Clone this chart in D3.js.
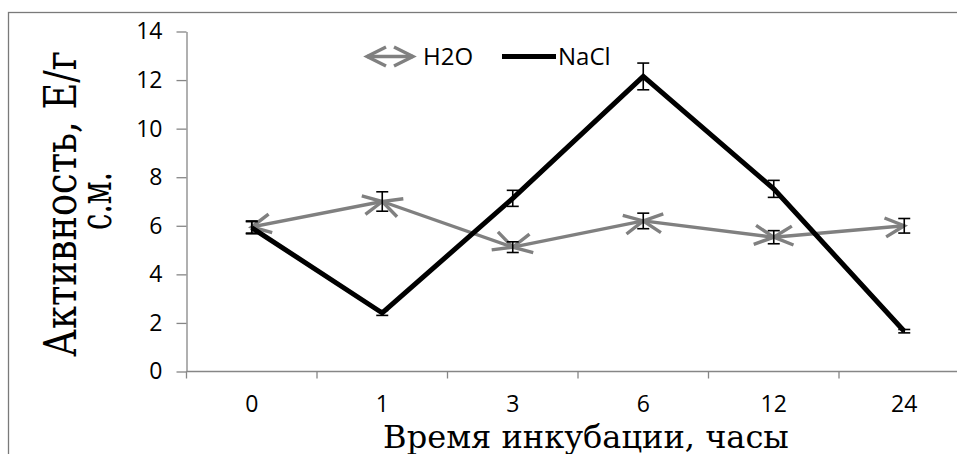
<!DOCTYPE html>
<html>
<head>
<meta charset="utf-8">
<script src="https://cdn.jsdelivr.net/npm/d3@7"></script>
<style>
  body { margin: 0; background: #fff; }
  svg { display: block; }
</style>
</head>
<body>
<svg id="chart" width="957" height="454"></svg>
<script>
// Incubation time categories (hours)
const categories = ["0", "1", "3", "6", "12", "24"];
// Enzyme activity, U/g dry mass
const h2oValues = [5.95, 7.0, 5.12, 6.2, 5.53, 6.0];
const h2oErrors = [0.25, 0.4, 0.22, 0.32, 0.27, 0.3];
const naclValues = [5.92, 2.41, 7.13, 12.15, 7.52, 1.66];
const naclErrors = [0.25, 0.1, 0.33, 0.55, 0.35, 0.07];
const yTicks = [0, 2, 4, 6, 8, 10, 12, 14];
const seriesNames = ["H2O", "NaCl"];
const xTitle = "Время инкубации, часы";
const yTitleLines = ["Активность, Е/г", "с.м."];

const svg = d3.select("#chart");
const GRAY = "#808080";
const AXIS = "#868686";
const SANS = "'Open Sans', 'Noto Sans', sans-serif";
const SERIF = "'DejaVu Serif', 'Liberation Serif', serif";

svg.append("rect").attr("width", 957).attr("height", 454).attr("fill", "#fff");

// Chart border (runs past the right and bottom edges)
svg.append("rect")
  .attr("x", 8.5).attr("y", 12.5).attr("width", 980).attr("height", 480)
  .attr("fill", "none").attr("stroke", "#7a7a7a").attr("stroke-width", 1.3);

const x = d3.scaleBand().domain(categories).range([186.5, 969.5]).padding(0);
const y = d3.scaleLinear().domain([0, 14]).range([371.5, 31.5]);
const cx = c => x(c) + x.bandwidth() / 2;

// Arrowhead marker for the H2O series
const defs = svg.append("defs");
defs.append("marker")
  .attr("id", "chev")
  .attr("markerUnits", "userSpaceOnUse")
  .attr("viewBox", "-26 -14 30 28")
  .attr("markerWidth", 30).attr("markerHeight", 28)
  .attr("refX", 0).attr("refY", 0)
  .attr("orient", "auto-start-reverse")
  .style("overflow", "visible")
  .append("path")
  .attr("d", "M-19,-9.5 L0,0 L-19,9.5")
  .attr("fill", "none").attr("stroke", GRAY).attr("stroke-width", 3.4)
  .attr("stroke-linejoin", "miter");

// Y axis
const yAxis = svg.append("g")
  .attr("transform", "translate(186.5,0)")
  .call(d3.axisLeft(y).tickValues(yTicks).tickSize(10).tickSizeOuter(0).tickPadding(14))
  .attr("font-family", SANS).attr("font-size", 23);
yAxis.select(".domain").attr("stroke", AXIS).attr("stroke-width", 1.3);
yAxis.selectAll(".tick line").attr("stroke", AXIS).attr("stroke-width", 1.3);
yAxis.selectAll(".tick text").attr("fill", "#000");

// X axis: labels centred in each band, ticks on band boundaries
const xAxis = svg.append("g")
  .attr("transform", "translate(0,371.5)")
  .call(d3.axisBottom(x).tickSize(0).tickSizeOuter(0).tickPadding(24))
  .attr("font-family", SANS).attr("font-size", 23);
xAxis.select(".domain").remove();
xAxis.selectAll(".tick text").attr("fill", "#000");
xAxis.append("line")
  .attr("x1", x.range()[0]).attr("x2", x.range()[1])
  .attr("stroke", AXIS).attr("stroke-width", 1.3);
const bounds = categories.map(c => x(c)).concat([x.range()[1]]);
xAxis.selectAll(".bound").data(bounds).enter().append("line")
  .attr("class", "bound")
  .attr("x1", d => d).attr("x2", d => d).attr("y1", 0).attr("y2", 7)
  .attr("stroke", AXIS).attr("stroke-width", 1.3);

function errorBars(values, errors) {
  const g = svg.append("g").attr("stroke", "#000").attr("stroke-width", 1.6);
  categories.forEach((c, i) => {
    const xc = cx(c), y1 = y(values[i] + errors[i]), y2 = y(values[i] - errors[i]);
    g.append("line").attr("x1", xc).attr("x2", xc).attr("y1", y1).attr("y2", y2);
    g.append("line").attr("x1", xc - 6).attr("x2", xc + 6).attr("y1", y1).attr("y2", y1);
    g.append("line").attr("x1", xc - 6).attr("x2", xc + 6).attr("y1", y2).attr("y2", y2);
  });
}

// H2O: segments with arrowheads at both ends
const h2oG = svg.append("g");
for (let i = 0; i < categories.length - 1; i++) {
  h2oG.append("path")
    .attr("d", d3.line()([[cx(categories[i]), y(h2oValues[i])], [cx(categories[i + 1]), y(h2oValues[i + 1])]]))
    .attr("fill", "none").attr("stroke", GRAY).attr("stroke-width", 3.4)
    .attr("marker-start", "url(#chev)").attr("marker-end", "url(#chev)");
}
errorBars(h2oValues, h2oErrors);

// NaCl: thick black line
svg.append("path")
  .datum(naclValues)
  .attr("d", d3.line().x((d, i) => cx(categories[i])).y(d => y(d)))
  .attr("fill", "none").attr("stroke", "#000").attr("stroke-width", 5)
  .attr("stroke-linejoin", "miter");
errorBars(naclValues, naclErrors);

// Legend
const lg = svg.append("g");
lg.append("path").attr("d", d3.line()([[367, 56.5], [413, 56.5]]))
  .attr("stroke", GRAY).attr("stroke-width", 3.4)
  .attr("marker-start", "url(#chev)").attr("marker-end", "url(#chev)");
lg.append("text").attr("x", 423).attr("y", 65).text(seriesNames[0])
  .attr("font-family", SANS).attr("font-size", 24).attr("fill", "#000");
lg.append("line").attr("x1", 502).attr("x2", 556).attr("y1", 56.5).attr("y2", 56.5)
  .attr("stroke", "#000").attr("stroke-width", 5);
lg.append("text").attr("x", 558).attr("y", 65).text(seriesNames[1])
  .attr("font-family", SANS).attr("font-size", 24).attr("fill", "#000");

// Axis titles: serif text, fitted along its baseline to a set length
function fittedTitle(str, size, length, tx, ty, angle) {
  const g = svg.append("g");
  const t = g.append("text")
    .attr("text-anchor", "middle")
    .attr("font-family", SERIF).attr("font-size", size).attr("fill", "#000")
    .text(str);
  const k = length / t.node().getComputedTextLength();
  g.attr("transform", `translate(${tx},${ty}) rotate(${angle}) scale(${k},1)`);
  return g;
}
fittedTitle(xTitle, 31, 406, 586, 448, 0);
fittedTitle(yTitleLines[0], 44, 306, 76, 204, -90);
fittedTitle(yTitleLines[1], 44, 58, 111, 201, -90);
</script>
</body>
</html>
